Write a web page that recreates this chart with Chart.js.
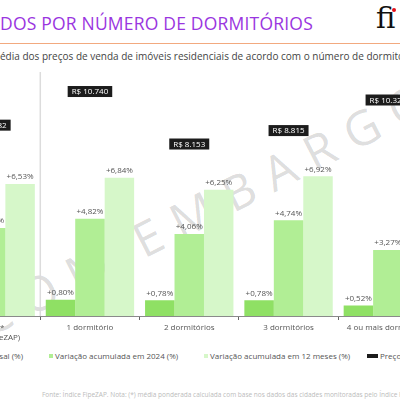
<!DOCTYPE html>
<html>
<head>
<meta charset="utf-8">
<script src="https://cdn.jsdelivr.net/npm/chart.js@4/dist/chart.umd.min.js"></script>
<style>
  html, body { margin: 0; padding: 0; }
  body { width: 400px; height: 400px; overflow: hidden; position: relative; background: #fff; font-family: 'Open Sans', sans-serif; }
  #title { position: absolute; left: 0; top: 11px; font-size: 17.5px; color: #9a35e0; white-space: nowrap; letter-spacing: 0.2px; }
  #rule { position: absolute; left: 0; top: 43px; width: 400px; height: 1px; background: #f2a97f; }
  #logo { position: absolute; left: 376px; top: 1px; font-family: 'DejaVu Serif', serif; font-size: 29px; color: #111; white-space: nowrap; }
  #dot { position: absolute; left: 392px; top: 8px; width: 4px; height: 4px; border-radius: 2px; background: #e3101a; }
  #subtitle { position: absolute; left: 0; top: 49px; font-size: 10px; color: #444; white-space: nowrap; }
  #chart-wrap { position: absolute; left: -80px; top: 62px; width: 540px; height: 284px; z-index: 2; }
  .leg { position: absolute; top: 350px; font-size: 8px; color: #555; white-space: nowrap; display: flex; align-items: center; }
  .leg i { display: inline-block; margin-right: 2px; }
  #note { position: absolute; left: 42px; top: 390px; font-size: 6.5px; color: #bbb; white-space: nowrap; }
  #mark { position: absolute; left: -4px; top: 285px; font-size: 48px; color: rgba(0,0,0,0.15); letter-spacing: 15px; word-spacing: -10px; white-space: nowrap; transform: rotate(-27deg); transform-origin: 0 100%; z-index: 1; }
</style>
</head>
<body>
<div id="title">DOS POR NÚMERO DE DORMITÓRIOS</div>
<div id="rule"></div>
<div id="logo">fi</div>
<div id="dot"></div>
<div id="subtitle">édia dos preços de venda de imóveis residenciais de acordo com o número de dormitórios</div>
<div id="mark">COM EMBARGO</div>
<div id="chart-wrap"><canvas id="chart" width="540" height="284"></canvas></div>
<div id="legend"></div>
<div id="note">Fonte: Índice FipeZAP. Nota: (*) média ponderada calculada com base nos dados das cidades monitoradas pelo Índice FipeZAP.</div>
<script>
// --- data ---
const categories = [['Média*', '(Índice FipeZAP)'], '1 dormitório', '2 dormitórios', '3 dormitórios', '4 ou mais dormitórios'];
const varMensal = [0.72, 0.80, 0.78, 0.78, 0.52];
const var2024   = [4.36, 4.82, 4.06, 4.74, 3.27];
const var12m    = [6.53, 6.84, 6.25, 6.92, 5.10];
const precoMedio = [9082, 10740, 8153, 8815, 10322];

const seriesNames = ['Variação mensal (%)', 'Variação acumulada em 2024 (%)', 'Variação acumulada em 12 meses (%)', 'Preço médio (R$/m²)'];
const colors = ['#8fe064', '#b1ee95', '#d6f7c9', '#1c1c1c'];

const FONT = "'Open Sans', sans-serif";

function pct(v) { return '+' + v.toFixed(2).replace('.', ',') + '%'; }
function brl(v) { return 'R$ ' + v.toLocaleString('pt-BR'); }

// --- legend (html, the chart's edges are cropped like the reference) ---
const legendPos = [{ right: 377 }, { left: 49 }, { left: 204 }, { left: 367 }];
const legend = document.getElementById('legend');
seriesNames.forEach((name, i) => {
    const el = document.createElement('div');
    el.className = 'leg';
    if (legendPos[i].left !== undefined) el.style.left = legendPos[i].left + 'px';
    else el.style.right = legendPos[i].right + 'px';
    const box = document.createElement('i');
    box.style.background = colors[i];
    box.style.width = i === 3 ? '11px' : '4px';
    box.style.height = '4px';
    el.appendChild(box);
    el.appendChild(document.createTextNode(name));
    legend.appendChild(el);
});

// separator between the average and the rest + value labels
const decorations = {
    id: 'decorations',
    beforeDatasetsDraw(chart) {
        const { ctx, chartArea, scales } = chart;
        const x = (scales.x.getPixelForTick(0) + scales.x.getPixelForTick(1)) / 2;
        ctx.save();
        ctx.strokeStyle = '#dcdcdc';
        ctx.lineWidth = 1.5;
        ctx.beginPath();
        ctx.moveTo(x, chartArea.top);
        ctx.lineTo(x, chartArea.bottom);
        ctx.stroke();
        ctx.restore();
    },
    afterDatasetsDraw(chart) {
        const { ctx } = chart;
        ctx.save();
        ctx.font = '8px ' + FONT;
        ctx.textAlign = 'center';
        [0, 1, 2].forEach(di => {
            const meta = chart.getDatasetMeta(di);
            meta.data.forEach((bar, i) => {
                ctx.fillStyle = '#555';
                ctx.textBaseline = 'bottom';
                ctx.fillText(pct(chart.data.datasets[di].data[i]), bar.x, bar.y - 3);
            });
        });
        const pm = chart.getDatasetMeta(3);
        pm.data.forEach((pt, i) => {
            const txt = brl(precoMedio[i]);
            const w = ctx.measureText(txt).width + 8;
            const h = 11;
            ctx.fillStyle = colors[3];
            ctx.fillRect(pt.x - w / 2, pt.y - h / 2, w, h);
            ctx.fillStyle = '#fff';
            ctx.textBaseline = 'middle';
            ctx.fillText(txt, pt.x, pt.y + 0.5);
        });
        ctx.restore();
    }
};

new Chart(document.getElementById('chart'), {
    type: 'bar',
    data: {
        labels: categories,
        datasets: [
            { label: seriesNames[0], data: varMensal, backgroundColor: colors[0], yAxisID: 'y', categoryPercentage: 0.89, barPercentage: 1.0 },
            { label: seriesNames[1], data: var2024, backgroundColor: colors[1], yAxisID: 'y', categoryPercentage: 0.89, barPercentage: 1.0 },
            { label: seriesNames[2], data: var12m, backgroundColor: colors[2], yAxisID: 'y', categoryPercentage: 0.89, barPercentage: 1.0 },
            { type: 'line', label: seriesNames[3], data: precoMedio, yAxisID: 'y2', showLine: false, pointRadius: 0, borderColor: colors[3], backgroundColor: colors[3] }
        ]
    },
    options: {
        responsive: false,
        animation: false,
        layout: { padding: { left: 21, right: 22.5, top: 10, bottom: 0 } },
        plugins: { legend: { display: false }, tooltip: { enabled: false } },
        scales: {
            x: {
                grid: { display: true, drawOnChartArea: false, drawTicks: true, tickLength: 4, color: '#666', offset: true },
                border: { display: true, color: '#8a8a8a', width: 1 },
                ticks: { color: '#555', font: { family: FONT, size: 8 }, padding: 3, maxRotation: 0, autoSkip: false },
                afterFit: s => { s.height = 30; }
            },
            y: { display: false, min: 0, max: 12.08 },
            y2: { display: false, min: -324, max: 11702 }
        }
    },
    plugins: [decorations]
});
</script>
</body>
</html>
